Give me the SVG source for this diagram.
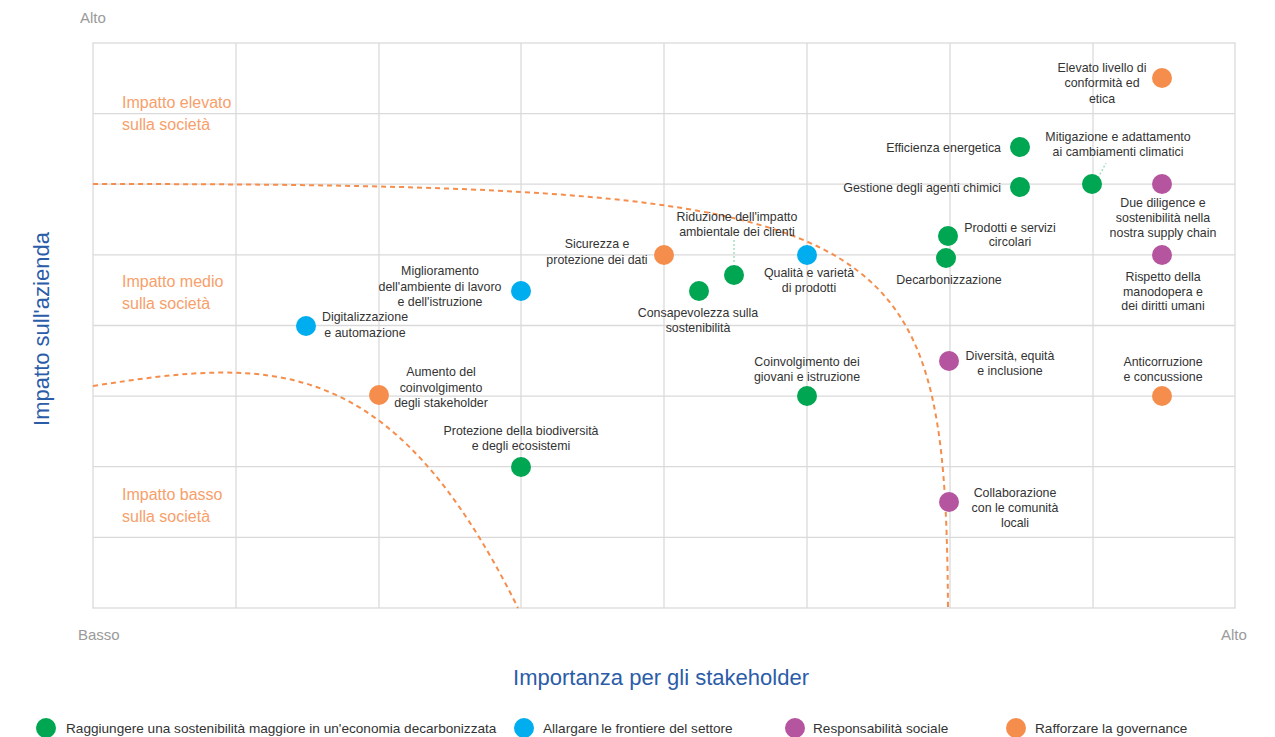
<svg xmlns="http://www.w3.org/2000/svg" width="1275" height="737" viewBox="0 0 1275 737">
<style>
.grid{stroke:#dadada;stroke-width:1.3;fill:none}
.curve{stroke:#f58e4d;stroke-width:2;fill:none;stroke-dasharray:5 4}
.lbl{font-family:"Liberation Sans",Arial,sans-serif;font-size:12.4px;fill:#333;text-anchor:middle}
.r{text-anchor:end}
.reg{font-family:"Liberation Sans",Arial,sans-serif;font-size:16px;fill:#f7a06b}
.corner{font-family:"Liberation Sans",Arial,sans-serif;font-size:15px;fill:#9a9a9a}
.axis{font-family:"Liberation Sans",Arial,sans-serif;font-size:22px;fill:#2b5ca8;text-anchor:middle}
.leg{font-family:"Liberation Sans",Arial,sans-serif;font-size:13.6px;fill:#333}
.g{fill:#00a651}.b{fill:#00aeef}.p{fill:#b5559f}.o{fill:#f58e4d}
.leader{stroke:#a6dfc0;stroke-width:1.5;stroke-dasharray:2 2;fill:none}
</style>
<rect width="1275" height="737" fill="#fff"/>
<g id="grid">
<rect class="grid" x="93" y="43" width="1142" height="565"/>
<path class="grid" d="M236,43V608M379,43V608M521,43V608M664,43V608M807,43V608M950,43V608M1093,43V608M93,113.6H1235M93,184.2H1235M93,254.9H1235M93,325.5H1235M93,396.1H1235M93,466.7H1235M93,537.4H1235"/>
</g>
<g id="axes">
<text class="corner" x="80" y="23">Alto</text>
<text class="corner" x="78" y="640">Basso</text>
<text class="corner" x="1221" y="640">Alto</text>
<text class="axis" transform="translate(49,329) rotate(-90)">Impatto sull'azienda</text>
<text class="axis" x="661" y="685">Importanza per gli stakeholder</text>
</g>
<g id="regions">
<text class="reg" x="122" y="108">Impatto elevato</text>
<text class="reg" x="122" y="130">sulla società</text>
<text class="reg" x="122" y="287">Impatto medio</text>
<text class="reg" x="122" y="309">sulla società</text>
<text class="reg" x="122" y="500">Impatto basso</text>
<text class="reg" x="122" y="522">sulla società</text>
</g>
<g id="connectors">
<path class="curve" d="M93,184 C900,184 945,215 948,608"/>
<path class="curve" d="M93,386 C270,358 390,350 518,608"/>
<path class="leader" d="M734,240V264"/>
<path class="leader" d="M1098,178L1106,163"/>
</g>
<g id="n-elevato"><circle class="o" cx="1162" cy="78" r="10"/><text class="lbl" x="1102" y="72">Elevato livello di</text><text class="lbl" x="1102" y="87">conformità ed</text><text class="lbl" x="1102" y="103">etica</text></g>
<g id="n-efficienza"><circle class="g" cx="1020" cy="147" r="10"/><text class="lbl r" x="1001" y="152">Efficienza energetica</text></g>
<g id="n-mitigazione"><circle class="g" cx="1092" cy="184" r="10"/><text class="lbl" x="1118" y="141">Mitigazione e adattamento</text><text class="lbl" x="1118" y="156">ai cambiamenti climatici</text></g>
<g id="n-chimici"><circle class="g" cx="1020" cy="187" r="10"/><text class="lbl r" x="1001" y="192">Gestione degli agenti chimici</text></g>
<g id="n-duediligence"><circle class="p" cx="1162" cy="184" r="10"/><text class="lbl" x="1163" y="207">Due diligence e</text><text class="lbl" x="1163" y="222">sostenibilità nella</text><text class="lbl" x="1163" y="237">nostra supply chain</text></g>
<g id="n-circolari"><circle class="g" cx="948" cy="236" r="10"/><text class="lbl" x="1010" y="232">Prodotti e servizi</text><text class="lbl" x="1010" y="246">circolari</text></g>
<g id="n-decarbonizzazione"><circle class="g" cx="946" cy="258" r="10"/><text class="lbl" x="949" y="284">Decarbonizzazione</text></g>
<g id="n-rispetto"><circle class="p" cx="1162" cy="255" r="10"/><text class="lbl" x="1163" y="281">Rispetto della</text><text class="lbl" x="1163" y="296">manodopera e</text><text class="lbl" x="1163" y="310">dei diritti umani</text></g>
<g id="n-sicurezza"><circle class="o" cx="664" cy="255" r="10"/><text class="lbl" x="597" y="248">Sicurezza e</text><text class="lbl" x="597" y="264">protezione dei dati</text></g>
<g id="n-riduzione"><circle class="g" cx="734" cy="275" r="10"/><text class="lbl" x="737" y="221">Riduzione dell'impatto</text><text class="lbl" x="737" y="236">ambientale dei clienti</text></g>
<g id="n-qualita"><circle class="b" cx="807" cy="255" r="10"/><text class="lbl" x="809" y="277">Qualità e varietà</text><text class="lbl" x="809" y="292">di prodotti</text></g>
<g id="n-consapevolezza"><circle class="g" cx="699" cy="291" r="10"/><text class="lbl" x="698" y="317">Consapevolezza sulla</text><text class="lbl" x="698" y="332">sostenibilità</text></g>
<g id="n-miglioramento"><circle class="b" cx="521" cy="291" r="10"/><text class="lbl" x="440" y="275">Miglioramento</text><text class="lbl" x="440" y="291">dell'ambiente di lavoro</text><text class="lbl" x="440" y="306">e dell'istruzione</text></g>
<g id="n-digitalizzazione"><circle class="b" cx="306" cy="326" r="10"/><text class="lbl" x="365" y="321">Digitalizzazione</text><text class="lbl" x="365" y="337">e automazione</text></g>
<g id="n-aumento"><circle class="o" cx="379" cy="395" r="10"/><text class="lbl" x="441" y="376">Aumento del</text><text class="lbl" x="441" y="392">coinvolgimento</text><text class="lbl" x="441" y="407">degli stakeholder</text></g>
<g id="n-biodiversita"><circle class="g" cx="521" cy="467" r="10"/><text class="lbl" x="521" y="435">Protezione della biodiversità</text><text class="lbl" x="521" y="450">e degli ecosistemi</text></g>
<g id="n-giovani"><circle class="g" cx="807" cy="396" r="10"/><text class="lbl" x="807" y="366">Coinvolgimento dei</text><text class="lbl" x="807" y="381">giovani e istruzione</text></g>
<g id="n-diversita"><circle class="p" cx="949" cy="361" r="10"/><text class="lbl" x="1010" y="360">Diversità, equità</text><text class="lbl" x="1010" y="375">e inclusione</text></g>
<g id="n-anticorruzione"><circle class="o" cx="1162" cy="396" r="10"/><text class="lbl" x="1163" y="366">Anticorruzione</text><text class="lbl" x="1163" y="381">e concussione</text></g>
<g id="n-collaborazione"><circle class="p" cx="949" cy="502" r="10"/><text class="lbl" x="1015" y="497">Collaborazione</text><text class="lbl" x="1015" y="512">con le comunità</text><text class="lbl" x="1015" y="527">locali</text></g>
<g id="legend">
<circle class="g" cx="46" cy="728" r="10"/><text class="leg" x="66" y="733">Raggiungere una sostenibilità maggiore in un'economia decarbonizzata</text>
<circle class="b" cx="524" cy="728" r="10"/><text class="leg" x="543" y="733">Allargare le frontiere del settore</text>
<circle class="p" cx="795" cy="728" r="10"/><text class="leg" x="813" y="733">Responsabilità sociale</text>
<circle class="o" cx="1016" cy="728" r="10"/><text class="leg" x="1035" y="733">Rafforzare la governance</text>
</g>
</svg>
